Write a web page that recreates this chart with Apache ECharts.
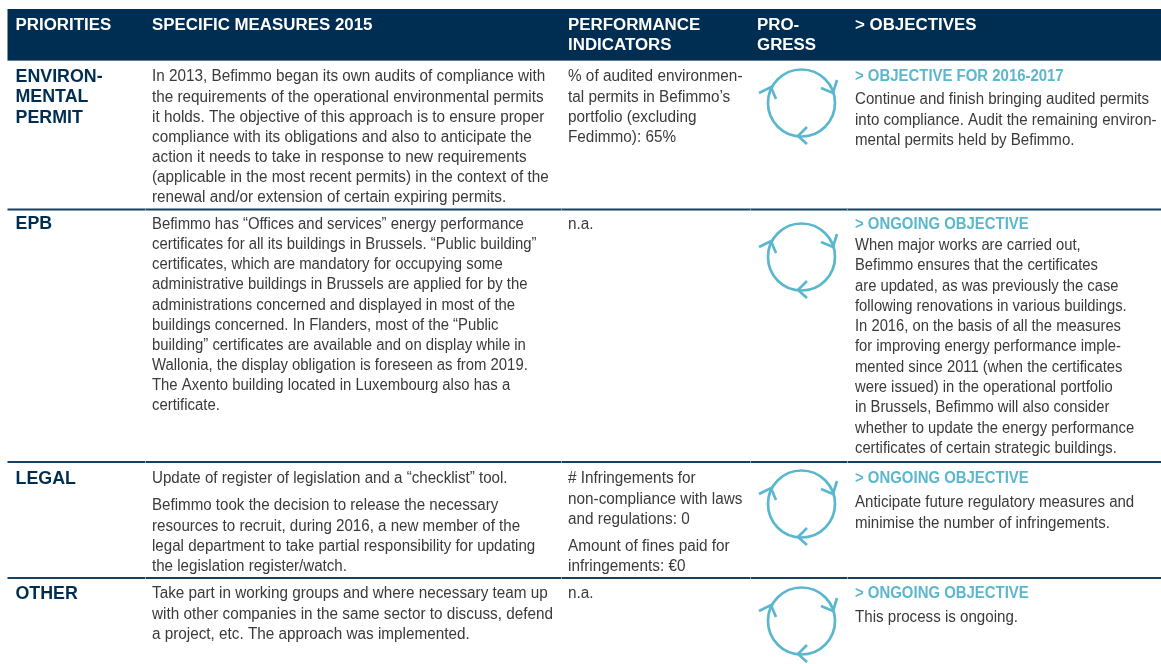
<!DOCTYPE html>
<html>
<head>
<meta charset="utf-8">
<style>html,body{margin:0;padding:0;background:#fff}#c{width:1161px;height:664px}</style>
<script src="https://cdn.jsdelivr.net/npm/echarts@6/dist/echarts.min.js"></script>
</head>
<body>
<div id="c"></div>
<script>
const headers = [
  ["PRIORITIES"],
  ["SPECIFIC MEASURES 2015"],
  ["PERFORMANCE","INDICATORS"],
  ["PRO-","GRESS"],
  ["> OBJECTIVES"]
];
const priorities = [
  ["ENVIRON-","MENTAL","PERMIT"],
  ["EPB"],
  ["LEGAL"],
  ["OTHER"]
];
// each cell = list of paragraphs, each paragraph = list of lines
const measures = [
  [["In 2013, Befimmo began its own audits of compliance with",
    "the requirements of the operational environmental permits",
    "it holds. The objective of this approach is to ensure proper",
    "compliance with its obligations and also to anticipate the",
    "action it needs to take in response to new requirements",
    "(applicable in the most recent permits) in the context of the",
    "renewal and/or extension of certain expiring permits."]],
  [["Befimmo has “Offices and services” energy performance",
    "certificates for all its buildings in Brussels. “Public building”",
    "certificates, which are mandatory for occupying some",
    "administrative buildings in Brussels are applied for by the",
    "administrations concerned and displayed in most of the",
    "buildings concerned. In Flanders, most of the “Public",
    "building” certificates are available and on display while in",
    "Wallonia, the display obligation is foreseen as from 2019.",
    "The Axento building located in Luxembourg also has a",
    "certificate."]],
  [["Update of register of legislation and a “checklist” tool."],
   ["Befimmo took the decision to release the necessary",
    "resources to recruit, during 2016, a new member of the",
    "legal department to take partial responsibility for updating",
    "the legislation register/watch."]],
  [["Take part in working groups and where necessary team up",
    "with other companies in the same sector to discuss, defend",
    "a project, etc. The approach was implemented."]]
];
const indicators = [
  [["% of audited environmen-","tal permits in Befimmo’s","portfolio (excluding","Fedimmo): 65%"]],
  [["n.a."]],
  [["# Infringements for","non-compliance with laws","and regulations: 0"],
   ["Amount of fines paid for","infringements: €0"]],
  [["n.a."]]
];
const objectiveHeads = ["> OBJECTIVE FOR 2016-2017","> ONGOING OBJECTIVE","> ONGOING OBJECTIVE","> ONGOING OBJECTIVE"];
const objectives = [
  ["Continue and finish bringing audited permits","into compliance. Audit the remaining environ-","mental permits held by Befimmo."],
  ["When major works are carried out,","Befimmo ensures that the certificates","are updated, as was previously the case","following renovations in various buildings.",
   "In 2016, on the basis of all the measures","for improving energy performance imple-","mented since 2011 (when the certificates","were issued) in the operational portfolio",
   "in Brussels, Befimmo will also consider","whether to update the energy performance","certificates of certain strategic buildings."],
  ["Anticipate future regulatory measures and","minimise the number of infringements."],
  ["This process is ongoing."]
];

// layout
const NAVY='#002d52', TEAL='#5bb7cd', BODY='#3a3a3a';
const colX=[15.5,152,568,757,855];
const rowFirst=[77,224.5,479,594];
const ruleY=[209.5,462,578];
const circleY=[103,257,504,621];
const headOffset=[23,21,24,24];
const gapX=[145,561,750,847];
const LH=20.15, PARA=6.8;
const FB='"Liberation Sans"';
const graphic=[];
function txt(s,x,y,font,fill,sx){graphic.push({type:'text',x:x,y:y,scaleX:sx,silent:true,
  style:{text:s,x:0,y:0,font:font,fill:fill,verticalAlign:'middle',align:'left'}});}
const bodyFont='16px '+FB, headFont='bold 16px '+FB, prioFont='bold 18px '+FB;
const SM=[0.955,0.93,0.945,0.955],SI=0.957,SO=[0.942,0.923,0.94,0.945],SH=1.055,SP=0.99,ST=0.933;
graphic.push({type:'rect',shape:{x:7.5,y:9,width:1153.5,height:51},style:{fill:NAVY}});
graphic.push({type:'rect',shape:{x:7.5,y:60,width:1153.5,height:1},style:{fill:'#5f7d96'}});
ruleY.forEach(y=>{
  graphic.push({type:'rect',shape:{x:7.5,y:y-1,width:1153.5,height:2},style:{fill:'#153f63'}});
  gapX.forEach(x=>graphic.push({type:'rect',shape:{x:x,y:y-1,width:1,height:2},style:{fill:'#8fa5b7'}}));
});
headers.forEach((h,c)=>h.forEach((l,i)=>txt(l,colX[c],26+i*20,headFont,'#fff',SH)));
priorities.forEach((p,r)=>p.forEach((l,i)=>txt(l,colX[0],rowFirst[r]+i*20.3,prioFont,NAVY,SP)));
function cell(paras,x,y0,s){let y=y0;paras.forEach(p=>{p.forEach(l=>{txt(l,x,y,bodyFont,BODY,s);y+=LH;});y+=PARA;});}
measures.forEach((m,r)=>cell(m,colX[1],rowFirst[r],SM[r]));
indicators.forEach((m,r)=>cell(m,colX[2],rowFirst[r],SI));
objectiveHeads.forEach((h,r)=>{txt(h,colX[4],rowFirst[r],headFont,TEAL,ST);
  objectives[r].forEach((l,i)=>txt(l,colX[4],rowFirst[r]+headOffset[r]+i*20.3,bodyFont,BODY,SO[r]));});
circleY.forEach(cy=>{const cx=801.5;
  graphic.push({type:'circle',shape:{cx:cx,cy:cy,r:33.5},style:{fill:'none',stroke:TEAL,lineWidth:2.7}});
  [[[19.5,-15],[31.5,-10],[35.5,-23]],[[5.5,24],[-3.5,33],[5.5,41]],[[-42.5,-10],[-30.5,-16],[-25.5,-4]]].forEach(a=>{
    graphic.push({type:'polyline',shape:{points:a.map(p=>[cx+p[0],cy+p[1]])},style:{fill:'none',stroke:TEAL,lineWidth:2.7}});
  });
});
const chart=echarts.init(document.getElementById('c'),null,{renderer:'canvas',width:1161,height:664});
chart.setOption({animation:false,backgroundColor:'#fff',graphic:{elements:graphic}});
</script>
</body>
</html>
